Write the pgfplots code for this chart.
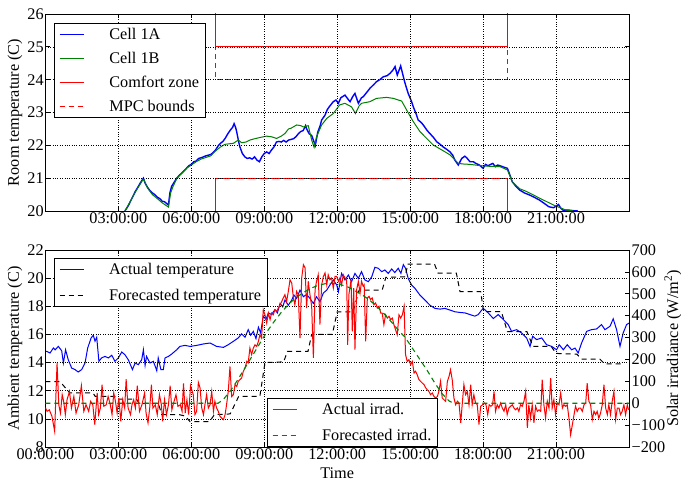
\documentclass[border=0pt]{standalone}
\usepackage{pgfplots}
\pgfplotsset{compat=1.18}
\usepackage{fontspec}
\setmainfont{Liberation Serif}
\newcommand{\ff}{\fontsize{16.3}{19.5}\selectfont}
\definecolor{mplgreen}{rgb}{0,0.5,0}
\pgfplotsset{
  legend image code/.code={\draw[#1] (0bp,0bp) -- (24bp,0bp);},
  mystyle/.style={
    scale only axis, width=583.6bp, height=197bp,
    xmin=0, xmax=24,
    tick align=inside, major tick length=4.5bp,
    every tick/.style={black, line width=0.7bp},
    axis line style={line width=0.9bp},
    grid style={dotted, black, line width=0.5bp},
    tick label style={font=\ff},
    label style={font=\ff},
    /pgf/number format/assume math mode=true,
    legend style={font=\ff, draw=black, line width=0.8bp, fill=white,
      inner xsep=4.6bp, inner ysep=3bp, cells={anchor=west},
      row sep=7bp,
      /tikz/every odd column/.append style={column sep=23bp}},
    yticklabel style={inner xsep=1.5bp},
    xticklabel style={inner ysep=1.5bp},
  }
}
\begin{document}
\begin{tikzpicture}
\path[use as bounding box] (-45.4bp,-38bp) rectangle (635.6bp,447bp);
% ---------------- top axis ----------------
\begin{axis}[mystyle, at={(0,236bp)}, anchor=south west,
  ymin=20, ymax=26, ytick={20,21,...,26},
  xtick={3,6,...,21},
  xticklabels={03:00:00,06:00:00,09:00:00,12:00:00,15:00:00,18:00:00,21:00:00},
  grid=major, axis on top,
  ylabel={Room temperature (C)},
  legend style={at={(0,1)}, anchor=north west, xshift=8.6bp, yshift=-9bp}]
\addlegendimage{blue, line width=1.4bp}
\addlegendentry{Cell 1A}
\addlegendimage{mplgreen, line width=1.1bp}
\addlegendentry{Cell 1B}
\addlegendimage{red, line width=1.2bp}
\addlegendentry{Comfort zone}
\addlegendimage{red, line width=1.2bp, dash pattern=on 5bp off 4bp}
\addlegendentry{MPC bounds}
\addplot[blue, line width=1.4bp, forget plot] coordinates {
(3.27,20.00) (3.4,20.15) (3.5,20.3) (3.6,20.45) (3.7,20.6) (3.8,20.72) (3.9,20.85) (4.03,21.0)
(4.1,20.85) (4.2,20.72) (4.3,20.62) (4.4,20.55) (4.5,20.5) (4.6,20.42) (4.7,20.38) (4.8,20.3)
(4.9,20.28) (5.0,20.22) (5.06,20.18) (5.12,20.55) (5.19,20.75) (5.3,20.88) (5.4,21.0) (5.5,21.08)
(5.6,21.15) (5.7,21.22) (5.8,21.3) (5.9,21.38) (6.0,21.42) (6.1,21.5) (6.2,21.52) (6.3,21.6)
(6.4,21.62) (6.5,21.65) (6.6,21.68) (6.7,21.7) (6.8,21.72) (6.9,21.78) (7.0,21.86) (7.1,21.98)
(7.2,22.06) (7.3,22.12) (7.4,22.22) (7.5,22.35) (7.6,22.46) (7.7,22.55) (7.76,22.66) (7.82,22.55)
(7.87,22.4) (7.95,22.1) (8.0,21.95) (8.1,21.75) (8.2,21.65) (8.3,21.6) (8.4,21.62) (8.5,21.58)
(8.6,21.65) (8.7,21.55) (8.8,21.5) (8.9,21.65) (9.0,21.75) (9.1,21.8) (9.2,21.75) (9.3,21.86)
(9.4,21.95) (9.5,22.1) (9.6,22.12) (9.7,22.1) (9.8,22.15) (9.9,22.1) (10.0,22.16) (10.1,22.18)
(10.2,22.2) (10.3,22.26) (10.4,22.35) (10.5,22.42) (10.6,22.45) (10.7,22.6) (10.75,22.49) (10.85,22.35)
(10.95,22.3) (11.05,22.1) (11.1,22.0) (11.2,22.4) (11.3,22.6) (11.36,22.77) (11.5,22.92) (11.6,23.1)
(11.7,23.2) (11.84,23.33) (11.95,23.38) (12.05,23.28) (12.15,23.45) (12.32,23.53) (12.45,23.4) (12.53,23.33)
(12.65,23.5) (12.73,23.58) (12.87,23.28) (13.0,23.45) (13.07,23.48) (13.2,23.6) (13.35,23.74) (13.5,23.85)
(13.62,23.94) (13.75,24.0) (13.9,24.09) (14.05,24.12) (14.17,24.19) (14.3,24.3) (14.38,24.4) (14.47,24.14)
(14.55,24.3) (14.61,24.42) (14.7,24.15) (14.79,23.89) (14.92,23.58) (15.05,23.35) (15.13,23.17) (15.25,22.95)
(15.33,22.77) (15.45,22.7) (15.54,22.62) (15.7,22.45) (15.81,22.36) (15.95,22.25) (16.09,22.11) (16.2,22.05)
(16.36,21.95) (16.5,21.88) (16.64,21.8) (16.75,21.7) (16.84,21.55) (16.98,21.4) (17.12,21.6) (17.25,21.67)
(17.35,21.6) (17.46,21.5) (17.6,21.5) (17.7,21.45) (17.85,21.4) (18.0,21.3) (18.1,21.42) (18.2,21.38)
(18.4,21.45) (18.5,21.35) (18.6,21.4) (18.8,21.35) (19.0,21.3) (19.1,21.1) (19.2,20.89) (19.35,20.75)
(19.5,20.64) (19.7,20.55) (19.9,20.49) (20.1,20.42) (20.3,20.34) (20.5,20.24) (20.7,20.13) (20.9,20.1)
(21.1,20.2) (21.2,20.08) (21.3,20.02) (21.5,20.03) (21.7,20.01) (21.9,20.0)
};
\addplot[mplgreen, line width=1bp, forget plot] coordinates {
(3.27,20.0) (3.5,20.3) (3.7,20.58) (3.9,20.82) (4.03,20.98) (4.2,20.7) (4.4,20.5) (4.6,20.38)
(4.8,20.25) (5.0,20.15) (5.06,20.12) (5.15,20.55) (5.25,20.75) (5.4,20.98) (5.6,21.15) (5.8,21.3)
(6.0,21.4) (6.2,21.5) (6.4,21.58) (6.6,21.63) (6.8,21.68) (6.97,21.81) (7.18,21.94) (7.38,22.03)
(7.6,22.05) (7.73,22.06) (7.93,22.16) (8.07,22.08) (8.25,22.1) (8.41,22.16) (8.6,22.2) (8.83,22.24)
(9.1,22.28) (9.3,22.26) (9.51,22.21) (9.7,22.28) (9.85,22.36) (10.0,22.5) (10.1,22.52) (10.33,22.62)
(10.5,22.6) (10.61,22.56) (10.81,22.6) (10.95,22.16) (11.05,21.94) (11.15,22.26) (11.36,22.62) (11.57,22.82)
(11.84,22.97) (12.1,23.23) (12.32,23.28) (12.59,23.17) (12.75,22.97) (12.9,23.2) (13.0,23.28) (13.35,23.33)
(13.62,23.43) (14.03,23.46) (14.31,23.43) (14.51,23.38) (14.65,23.35) (14.86,23.07) (15.13,22.72) (15.4,22.42)
(15.68,22.21) (15.95,22.01) (16.3,21.86) (16.64,21.71) (16.98,21.45) (17.2,21.43) (17.46,21.42) (17.9,21.38)
(18.3,21.36) (18.7,21.35) (19.0,21.25) (19.2,20.89) (19.5,20.68) (19.8,20.59) (20.3,20.4) (20.9,20.18)
(21.4,20.03) (21.7,20.0)
};
\addplot[red, line width=1.2bp, forget plot] coordinates {(0,27) (7,27) (7,25) (19,25) (19,27) (24,27)};
\addplot[red, line width=1.2bp, forget plot] coordinates {(0,19) (7,19) (7,21) (19,21) (19,19) (24,19)};
\addplot[red, line width=1.2bp, dash pattern=on 5bp off 4bp, forget plot] coordinates {(0,27) (7,27) (7,24) (19,24) (19,27) (24,27)};
\end{axis}
% ---------------- bottom left axis ----------------
\begin{axis}[mystyle, at={(0,0)}, anchor=south west,
  ymin=8, ymax=22, ytick={8,10,...,22}, ytick pos=left,
  xtick={0,3,...,21},
  xticklabels={00:00:00,03:00:00,06:00:00,09:00:00,12:00:00,15:00:00,18:00:00,21:00:00},
  grid=major, axis on top,
  xlabel={Time}, xlabel style={yshift=-3bp},
  ylabel={Ambient temperature (C)},
  legend style={at={(0,1)}, anchor=north west, xshift=8.6bp, yshift=-8bp, row sep=9bp}]
\addlegendimage{blue, line width=1.1bp}
\addlegendentry{Actual temperature}
\addlegendimage{black, line width=1.1bp, dash pattern=on 5bp off 4bp}
\addlegendentry{Forecasted temperature}
\addplot[blue, line width=1bp, forget plot] coordinates {
(0.0,14.8) (0.05,14.8) (0.19,14.68) (0.33,15.04) (0.4,14.9) (0.53,15.15) (0.67,14.84) (0.74,13.97)
(0.83,14.91) (0.94,14.2) (1.08,13.61) (1.22,13.5) (1.35,13.33) (1.49,13.5) (1.63,13.97) (1.74,15.04)
(1.88,15.75) (1.97,15.94) (2.04,15.52) (2.11,15.8) (2.2,14.09) (2.31,14.33) (2.45,14.44) (2.59,14.33)
(2.73,14.52) (2.86,14.09) (3.0,14.33) (3.14,14.75) (3.27,14.56) (3.41,14.2) (3.58,13.5) (3.69,13.97)
(3.82,13.85) (3.96,14.2) (4.03,14.91) (4.1,13.8) (4.16,14.44) (4.3,13.97) (4.44,14.09) (4.58,13.42)
(4.64,14.33) (4.75,13.5) (4.85,13.5) (4.92,14.33) (5.06,14.44) (5.19,14.6) (5.4,14.91) (5.53,15.15)
(5.74,15.22) (5.95,15.15) (6.22,15.22) (6.49,15.32) (6.77,15.39) (7.04,15.15) (7.32,15.08) (7.52,15.27)
(7.73,15.51) (7.93,15.75) (8.07,16.04) (8.21,15.8) (8.34,16.34) (8.44,15.94) (8.55,16.22) (8.66,15.7)
(8.76,16.51) (8.85,16.11) (8.96,17.3) (9.07,17.06) (9.17,17.53) (9.3,17.41) (9.44,17.76) (9.54,17.53)
(9.65,18.2) (9.76,17.96) (9.85,18.44) (9.99,18.08) (10.13,18.44) (10.22,18.8) (10.33,18.56) (10.47,19.15)
(10.61,18.68) (10.74,18.84) (10.88,18.56) (11.02,18.2) (11.15,18.68) (11.29,18.32) (11.43,18.94) (11.57,19.15)
(11.7,19.51) (11.84,19.87) (11.98,19.51) (12.05,19.04) (12.18,20.34) (12.32,19.87) (12.46,20.22) (12.59,19.75)
(12.73,20.34) (12.87,19.98) (13.0,20.46) (13.14,19.87) (13.28,19.75) (13.42,20.1) (13.55,20.77) (13.69,20.7)
(13.83,20.46) (13.96,20.58) (14.1,20.34) (14.24,20.65) (14.37,20.4) (14.51,20.7) (14.62,20.34) (14.72,20.96)
(14.81,20.7) (14.92,19.98) (15.06,19.51) (15.2,19.27) (15.4,18.8) (15.61,18.44) (15.81,18.08) (16.02,17.85)
(16.23,17.8) (16.43,17.85) (16.64,17.73) (16.84,17.61) (17.05,17.56) (17.25,17.53) (17.46,17.41) (17.66,17.3)
(17.8,17.41) (17.94,17.73) (18.01,17.85) (18.21,17.53) (18.42,17.13) (18.62,17.41) (18.83,17.06) (19.03,16.7)
(19.17,16.22) (19.38,16.34) (19.58,16.11) (19.79,15.75) (19.93,15.15) (20.04,15.87) (20.2,15.63) (20.41,15.75)
(20.61,15.27) (20.82,15.15) (21.02,14.91) (21.13,15.27) (21.3,14.91) (21.46,15.27) (21.64,14.91) (21.78,15.03)
(21.91,14.68) (22.05,15.39) (22.26,16.22) (22.46,16.34) (22.67,16.39) (22.87,16.7) (23.01,16.34) (23.22,16.58)
(23.35,17.11) (23.49,16.34) (23.63,15.15) (23.76,16.1) (23.9,16.7) (24.0,16.8)
};
\addplot[black, line width=1bp, dash pattern=on 5bp off 4bp, forget plot] coordinates {
(0,12.65) (0.6,12.65) (1.0,11.85) (1.95,11.85) (2.05,11.6) (2.85,11.6) (2.95,11.4) (3.75,11.4)
(3.85,11.1) (4.65,11.1) (4.78,10.3) (5.5,10.3) (5.75,10.2) (5.95,9.8) (6.75,9.8) (6.95,10.3)
(7.6,10.35) (7.95,11.6) (8.82,11.6) (9.03,14.0) (9.8,14.05) (9.95,14.8) (10.8,14.8) (10.95,16.0)
(11.8,16.0) (12.0,17.6) (12.65,17.6) (12.9,19.15) (13.85,19.15) (14.0,20.05) (14.8,20.1) (14.9,21.0)
(16.0,21.0) (16.15,20.35) (16.9,20.35) (17.05,19.05) (17.9,19.05) (18.02,17.62) (18.75,17.62) (19.0,16.2)
(19.8,16.2) (20.05,15.15) (20.8,15.15) (21.0,14.65) (21.85,14.6) (22.05,14.25) (22.8,14.25) (23.0,13.9)
(23.8,13.9)
};
\end{axis}
% ---------------- bottom right axis ----------------
\begin{axis}[mystyle, at={(0,0)}, anchor=south west,
  ymin=-200, ymax=700, ytick={-200,-100,...,700},
  yticklabels={−200,−100,0,100,200,300,400,500,600,700},
  axis y line*=right, axis x line=none,
  yticklabel style={inner xsep=2.5bp},
  ylabel={Solar irradiance (W/m\textsuperscript{2})},
  ylabel style={yshift=7bp},
  legend style={at={(0.3797,0)}, anchor=south west, row sep=9bp}]
\addlegendimage{red, line width=1.1bp}
\addlegendentry{Actual irrad.}
\addlegendimage{mplgreen, line width=1.2bp, dash pattern=on 5bp off 4bp}
\addlegendentry{Forecasted irrad.}
\addplot[red, line width=1bp, forget plot] coordinates {
(0.0,-20) (0.07,-37) (0.16,-30) (0.27,-60) (0.38,-128) (0.48,184) (0.55,-7) (0.62,-45)
(0.69,39) (0.75,9) (0.82,-52) (0.89,16) (0.99,54) (1.07,-22) (1.17,31) (1.26,-45)
(1.37,-7) (1.48,80) (1.58,-37) (1.67,-7) (1.78,-37) (1.86,9) (1.95,-7) (2.03,-98)
(2.13,47) (2.19,-52) (2.26,-22) (2.33,85) (2.40,-14) (2.50,-7) (2.58,31) (2.67,-7)
(2.74,-52) (2.81,47) (2.88,9) (2.95,-45) (3.02,24) (3.10,-83) (3.18,16) (3.26,-22)
(3.32,110) (3.40,-22) (3.50,-52) (3.56,-7) (3.63,16) (3.70,-22) (3.78,80) (3.87,-37)
(3.97,-7) (4.08,47) (4.14,-45) (4.22,-90) (4.29,-22) (4.36,85) (4.42,-22) (4.52,-7)
(4.60,-52) (4.69,39) (4.77,-7) (4.82,-83) (4.90,16) (4.98,-52) (5.06,-7) (5.13,80)
(5.20,-30) (5.27,0) (5.37,39) (5.45,-14) (5.55,-7) (5.62,-37) (5.68,90) (5.75,-45)
(5.82,16) (5.89,-52) (5.97,80) (6.08,39) (6.15,-52) (6.22,-37) (6.29,95) (6.36,70)
(6.43,-22) (6.50,-52) (6.56,-7) (6.63,39) (6.70,-22) (6.77,-7) (6.84,54) (6.91,-37)
(6.97,9) (7.04,-22) (7.11,-37) (7.18,-60) (7.25,-68) (7.32,-75) (7.39,-52) (7.45,-7)
(7.52,54) (7.59,168) (7.66,31) (7.73,39) (7.80,85) (7.87,77) (7.93,100) (8.00,108)
(8.07,115) (8.14,146) (8.21,161) (8.28,191) (8.34,184) (8.41,252) (8.48,222) (8.55,252)
(8.62,267) (8.69,260) (8.76,283) (8.82,313) (8.89,298) (8.96,427) (9.03,404) (9.10,366)
(9.17,412) (9.24,382) (9.30,412) (9.37,404) (9.44,427) (9.51,420) (9.58,435) (9.65,450)
(9.72,465) (9.78,481) (9.85,496) (9.92,465) (9.99,511) (10.06,564) (10.13,549) (10.20,481)
(10.26,450) (10.33,511) (10.40,496) (10.47,298) (10.54,572) (10.61,633) (10.68,618) (10.74,435)
(10.81,557) (10.88,496) (10.95,443) (11.02,207) (11.09,519) (11.15,557) (11.22,587) (11.29,359)
(11.36,541) (11.43,579) (11.50,595) (11.57,541) (11.63,587) (11.70,564) (11.77,572) (11.84,526)
(11.91,579) (11.98,579) (12.05,557) (12.11,572) (12.18,541) (12.25,587) (12.32,572) (12.39,564)
(12.43,267) (12.48,496) (12.57,564) (12.62,328) (12.68,526) (12.73,245) (12.80,519) (12.87,557)
(12.94,503) (13.00,557) (13.07,534) (13.11,541) (13.17,283) (13.24,481) (13.31,488) (13.37,473)
(13.44,481) (13.51,450) (13.58,458) (13.65,435) (13.72,443) (13.79,412) (13.85,412) (13.92,359)
(13.99,404) (14.06,389) (14.13,397) (14.20,382) (14.27,389) (14.33,359) (14.40,336) (14.47,313)
(14.54,404) (14.61,389) (14.68,404) (14.75,443) (14.81,222) (14.88,191) (14.95,199) (15.02,176)
(15.09,191) (15.16,138) (15.22,146) (15.29,130) (15.36,108) (15.43,100) (15.50,92) (15.57,85)
(15.64,70) (15.70,62) (15.77,54) (15.84,39) (15.91,47) (15.98,31) (16.05,24) (16.12,31)
(16.18,54) (16.25,100) (16.32,24) (16.39,16) (16.46,9) (16.53,100) (16.60,123) (16.66,153)
(16.73,108) (16.80,24) (16.87,-7) (16.94,9) (17.01,1) (17.08,-90) (17.14,-7) (17.21,85)
(17.28,39) (17.35,54) (17.42,-7) (17.49,85) (17.55,-7) (17.62,39) (17.69,1) (17.76,-7)
(17.83,-98) (17.90,-14) (17.98,-7) (18.05,1) (18.12,-7) (18.19,-52) (18.25,-7) (18.32,-14)
(18.39,-7) (18.45,54) (18.51,-37) (18.58,-7) (18.65,-22) (18.72,1) (18.79,-22) (18.86,-37)
(18.93,-7) (18.99,-52) (19.06,-22) (19.13,-14) (19.20,-7) (19.27,-22) (19.34,-30) (19.41,-22)
(19.47,-37) (19.54,-7) (19.61,-14) (19.68,9) (19.75,54) (19.82,-113) (19.88,-7) (19.95,-68)
(20.02,-7) (20.09,-90) (20.16,-14) (20.23,-37) (20.30,-30) (20.37,-37) (20.43,108) (20.50,-7)
(20.57,-68) (20.64,9) (20.71,-22) (20.78,115) (20.84,-22) (20.91,16) (20.98,-52) (21.05,1)
(21.12,-7) (21.19,47) (21.26,-22) (21.32,-7) (21.39,-14) (21.46,-7) (21.53,-68) (21.60,-144)
(21.67,-98) (21.74,-52) (21.80,-14) (21.87,-37) (21.94,-22) (22.01,-22) (22.08,-37) (22.15,-7)
(22.22,1) (22.28,92) (22.35,9) (22.42,-7) (22.49,-75) (22.56,-37) (22.63,-52) (22.69,-37)
(22.76,-68) (22.83,-45) (22.90,-7) (22.97,85) (23.04,-22) (23.11,-52) (23.17,-7) (23.24,-52)
(23.31,9) (23.38,54) (23.45,-75) (23.52,-22) (23.59,-22) (23.65,-52) (23.72,-37) (23.79,-7)
(23.86,-52) (23.93,-7) (23.98,-30)
};
\addplot[mplgreen, line width=1.1bp, dash pattern=on 5bp off 4bp, forget plot] coordinates {
(0,0) (7.1,0) (7.3,15) (7.6,55) (7.9,105) (8.2,160) (8.5,215) (8.8,270) (9.1,325) (9.4,372)
(9.7,415) (10.0,452) (10.3,482) (10.6,505) (10.9,524) (11.2,538) (11.5,546) (11.8,548) (12.1,543)
(12.4,533) (12.7,516) (13.0,497) (13.3,474) (13.6,445) (13.9,412) (14.2,375) (14.5,336) (14.8,300)
(15.1,250) (15.4,200) (15.7,150) (16.0,95) (16.3,45) (16.6,10) (16.8,0) (24,0)
};
\end{axis}
\end{tikzpicture}
\end{document}
